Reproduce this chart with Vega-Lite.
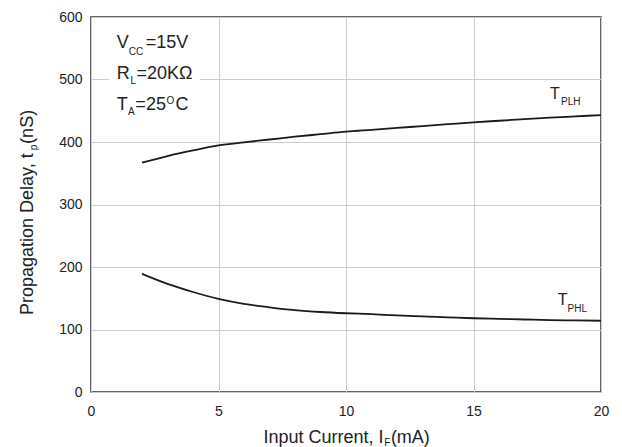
{
  "$schema": "https://vega.github.io/schema/vega-lite/v6.json",
  "width": 510,
  "height": 375,
  "autosize": {"type": "none"},
  "padding": {"left": 91, "top": 17, "right": 21, "bottom": 55},
  "background": "white",
  "config": {
    "view": {"stroke": "#333333", "strokeWidth": 1.5},
    "axis": {"grid": true, "gridColor": "#cdcdcd", "gridWidth": 1, "domain": false, "ticks": false, "tickSize": 0, "labelFlush": false, "labelFont": "Liberation Sans", "labelFontSize": 14, "labelColor": "#222222", "title": null},
    "axisX": {"labelPadding": 12},
    "axisY": {"labelPadding": 9},
    "text": {"font": "Liberation Sans", "color": "#222222", "baseline": "alphabetic", "align": "left"}
  },
  "layer": [
    {
      "data": {"values": [
        {"s": "PLH", "x": 2, "y": 367}, {"s": "PLH", "x": 3, "y": 377.5}, {"s": "PLH", "x": 4, "y": 386.5}, {"s": "PLH", "x": 5, "y": 394.5}, {"s": "PLH", "x": 6, "y": 399.5}, {"s": "PLH", "x": 7, "y": 404}, {"s": "PLH", "x": 8, "y": 408.5}, {"s": "PLH", "x": 9, "y": 412.5}, {"s": "PLH", "x": 10, "y": 416.5}, {"s": "PLH", "x": 11, "y": 419.5}, {"s": "PLH", "x": 12, "y": 422.5}, {"s": "PLH", "x": 13, "y": 425.5}, {"s": "PLH", "x": 14, "y": 428.5}, {"s": "PLH", "x": 15, "y": 431.5}, {"s": "PLH", "x": 16, "y": 434}, {"s": "PLH", "x": 17, "y": 436.5}, {"s": "PLH", "x": 18, "y": 439}, {"s": "PLH", "x": 19, "y": 441}, {"s": "PLH", "x": 20, "y": 443},
        {"s": "PHL", "x": 2, "y": 189}, {"s": "PHL", "x": 3, "y": 173}, {"s": "PHL", "x": 4, "y": 160}, {"s": "PHL", "x": 5, "y": 149}, {"s": "PHL", "x": 6, "y": 141}, {"s": "PHL", "x": 7, "y": 135.5}, {"s": "PHL", "x": 8, "y": 131}, {"s": "PHL", "x": 9, "y": 128}, {"s": "PHL", "x": 10, "y": 126}, {"s": "PHL", "x": 11, "y": 124.5}, {"s": "PHL", "x": 12, "y": 122.5}, {"s": "PHL", "x": 13, "y": 121}, {"s": "PHL", "x": 14, "y": 119.5}, {"s": "PHL", "x": 15, "y": 118}, {"s": "PHL", "x": 16, "y": 117}, {"s": "PHL", "x": 17, "y": 116}, {"s": "PHL", "x": 18, "y": 115}, {"s": "PHL", "x": 19, "y": 114.5}, {"s": "PHL", "x": 20, "y": 114}
      ]},
      "mark": {"type": "line", "interpolate": "monotone", "strokeWidth": 1.8, "color": "#1a1a1a"},
      "encoding": {
        "x": {"field": "x", "type": "quantitative", "scale": {"domain": [0, 20], "nice": false}, "axis": {"values": [0, 5, 10, 15, 20]}},
        "y": {"field": "y", "type": "quantitative", "scale": {"domain": [0, 600], "nice": false}, "axis": {"values": [0, 100, 200, 300, 400, 500, 600]}},
        "detail": {"field": "s"}
      }
    },
    {
      "data": {"values": [{"x1": 0.71, "x2": 4.27, "y1": 592, "y2": 428}]},
      "mark": {"type": "rect", "fill": "white", "stroke": null},
      "encoding": {
        "x": {"field": "x1", "type": "quantitative", "scale": {"domain": [0, 20], "nice": false}},
        "x2": {"field": "x2"},
        "y": {"field": "y1", "type": "quantitative", "scale": {"domain": [0, 600], "nice": false}},
        "y2": {"field": "y2"}
      }
    },
    {
      "data": {"values": [
        {"t": "V", "x": 1.01, "y": 550}, {"t": "=15V", "x": 2.15, "y": 550},
        {"t": "R", "x": 1.01, "y": 501.6}, {"t": "=20KΩ", "x": 1.78, "y": 501.6},
        {"t": "T", "x": 1.01, "y": 452}, {"t": "=25", "x": 1.74, "y": 452}, {"t": "C", "x": 3.31, "y": 452}
      ]},
      "mark": {"type": "text", "fontSize": 18},
      "encoding": {
        "x": {"field": "x", "type": "quantitative", "scale": {"domain": [0, 20], "nice": false}},
        "y": {"field": "y", "type": "quantitative", "scale": {"domain": [0, 600], "nice": false}},
        "text": {"field": "t"}
      }
    },
    {
      "data": {"values": [
        {"t": "CC", "x": 1.48, "y": 540}, {"t": "L", "x": 1.55, "y": 492.8}, {"t": "A", "x": 1.45, "y": 443}, {"t": "O", "x": 2.96, "y": 460.8},
        {"t": "PLH", "x": 18.43, "y": 459.2}, {"t": "PHL", "x": 18.69, "y": 128.5},
        {"t": "F", "x": 11.5, "y": -86}
      ]},
      "mark": {"type": "text", "fontSize": 10},
      "encoding": {
        "x": {"field": "x", "type": "quantitative", "scale": {"domain": [0, 20], "nice": false}},
        "y": {"field": "y", "type": "quantitative", "scale": {"domain": [0, 600], "nice": false}},
        "text": {"field": "t"}
      }
    },
    {
      "data": {"values": [{"t": "T", "x": 18.0, "y": 468.3}, {"t": "T", "x": 18.3, "y": 139.2}]},
      "mark": {"type": "text", "fontSize": 16},
      "encoding": {
        "x": {"field": "x", "type": "quantitative", "scale": {"domain": [0, 20], "nice": false}},
        "y": {"field": "y", "type": "quantitative", "scale": {"domain": [0, 600], "nice": false}},
        "text": {"field": "t"}
      }
    },
    {
      "data": {"values": [{"t": "Input Current, I", "x": 6.76, "y": -81.1}, {"t": "(mA)", "x": 11.76, "y": -81.1}]},
      "mark": {"type": "text", "fontSize": 18},
      "encoding": {
        "x": {"field": "x", "type": "quantitative", "scale": {"domain": [0, 20], "nice": false}},
        "y": {"field": "y", "type": "quantitative", "scale": {"domain": [0, 600], "nice": false}},
        "text": {"field": "t"}
      }
    },
    {
      "data": {"values": [{"t": "Propagation Delay, t", "x": -2.27, "y": 123.2}, {"t": "(nS)", "x": -2.27, "y": 397}]},
      "mark": {"type": "text", "fontSize": 18, "angle": 270},
      "encoding": {
        "x": {"field": "x", "type": "quantitative", "scale": {"domain": [0, 20], "nice": false}},
        "y": {"field": "y", "type": "quantitative", "scale": {"domain": [0, 600], "nice": false}},
        "text": {"field": "t"}
      }
    },
    {
      "data": {"values": [{"t": "p", "x": -2.12, "y": 387}]},
      "mark": {"type": "text", "fontSize": 10, "angle": 270},
      "encoding": {
        "x": {"field": "x", "type": "quantitative", "scale": {"domain": [0, 20], "nice": false}},
        "y": {"field": "y", "type": "quantitative", "scale": {"domain": [0, 600], "nice": false}},
        "text": {"field": "t"}
      }
    }
  ]
}
